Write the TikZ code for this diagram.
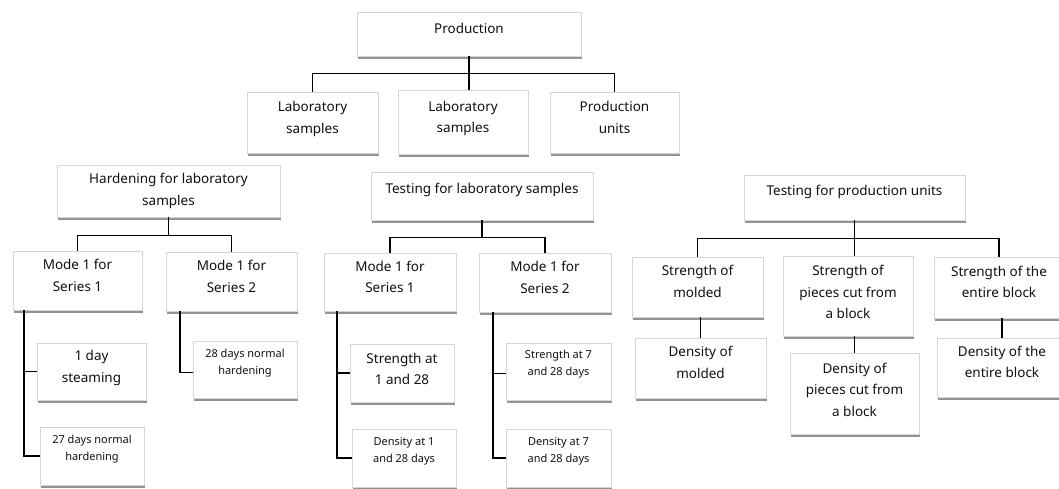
\documentclass[tikz,border=0pt]{standalone}
\usepackage{fontspec}
\setmainfont{Noto Sans}
\usepackage{xcolor}
\definecolor{edge}{HTML}{D6D6D6}
\definecolor{ink}{HTML}{111111}
\usepackage{tikz}
\usetikzlibrary{shadows,calc}

\begin{document}
\begin{tikzpicture}[x=1pt,y=-1pt,
  box/.style={rectangle,draw=edge,line width=0.8pt,fill=white,text=ink,align=center,
    drop shadow={shadow xshift=1pt,shadow yshift=-2.6pt,fill=black!50,opacity=0.85},
    font=\fontsize{13.5}{21.5}\selectfont},
  small/.style={font=\fontsize{11}{17}\selectfont},
  lift/.style={text depth=#1},
  link/.style={black,line width=1.1pt}]
  \useasboundingbox (0,0) rectangle (1059,488);
  \node[box,minimum width=224,minimum height=44,lift=12pt] (prod) at (469,34) {Production};
  \node[box,minimum width=131,minimum height=61,lift=10pt] (lab1) at (312.5,122.5) {Laboratory\\samples};
  \node[box,minimum width=130,minimum height=64,lift=10pt] (lab2) at (463,122) {Laboratory\\samples};
  \node[box,minimum width=129,minimum height=61,lift=10pt] (unit) at (614.5,122.5) {Production\\units};
  \node[box,minimum width=223,minimum height=52] (hard) at (168.5,191) {Hardening for laboratory\\samples};
  \node[box,minimum width=222,minimum height=48,lift=16pt] (testlab) at (482,196) {Testing for laboratory samples};
  \node[box,minimum width=221,minimum height=45,lift=14pt] (testunit) at (854.5,197.5) {Testing for production units};
  \node[box,minimum width=129,minimum height=59,lift=10pt] (hm1) at (77.5,280.5) {Mode 1 for\\Series 1};
  \node[box,minimum width=131,minimum height=59,lift=10pt] (hm2) at (231.5,281.5) {Mode 1 for\\Series 2};
  \node[box,minimum width=109,minimum height=57,lift=10pt] (steam) at (91.5,371.5) {1 day\\steaming};
  \node[box,small,minimum width=104,minimum height=58,lift=16pt] (hard27) at (92,456) {27 days normal\\hardening};
  \node[box,small,minimum width=104,minimum height=57,lift=16pt] (hard28) at (245,369.5) {28 days normal\\hardening};
  \node[box,minimum width=132,minimum height=58,lift=10pt] (tm1) at (390,282) {Mode 1 for\\Series 1};
  \node[box,minimum width=132,minimum height=59,lift=10pt] (tm2) at (545,282.5) {Mode 1 for\\Series 2};
  \node[box,minimum width=104,minimum height=58,lift=8pt] (str1) at (402,373) {Strength at\\1 and 28};
  \node[box,small,minimum width=104,minimum height=58,lift=17pt] (den1) at (404,458) {Density at 1\\and 28 days};
  \node[box,small,minimum width=105,minimum height=57,lift=17pt] (str7) at (558.5,371.5) {Strength at 7\\and 28 days};
  \node[box,small,minimum width=105,minimum height=58,lift=17pt] (den7) at (558.5,458) {Density at 7\\and 28 days};
  \node[box,minimum width=131,minimum height=60,lift=11pt] (strmold) at (697.5,287) {Strength of\\molded};
  \node[box,minimum width=130,minimum height=80,lift=8pt] (strcut) at (848,296) {Strength of\\pieces cut from\\a block};
  \node[box,minimum width=130,minimum height=61,lift=11pt] (strblk) at (999,287.5) {Strength of the\\entire block};
  \node[box,minimum width=131,minimum height=60,lift=11pt] (denmold) at (700.5,368) {Density of\\molded};
  \node[box,minimum width=129,minimum height=81,lift=8pt] (dencut) at (854.5,393.5) {Density of\\pieces cut from\\a block};
  \node[box,minimum width=130,minimum height=59,lift=11pt] (denblk) at (1002,367.5) {Density of the\\entire block};
  \draw[link] (prod.south) -- ++(0,17) coordinate (prodbar);
  \draw[link] (lab1.north) |- (prodbar) -| (unit.north);
  \draw[link] (prodbar) -- (prodbar |- lab2.north);
  \draw[link] (hard.south) -- ++(0,18) coordinate (hardbar);
  \draw[link] (hm1.north) |- (hardbar) -| (hm2.north);
  \draw[link] (testlab.south) -- ++(0,17) coordinate (labbar);
  \draw[link] (tm1.north) |- (labbar) -| (tm2.north);
  \draw[link] (testunit.south) -- ++(0,18) coordinate (unitbar);
  \draw[link] (strmold.north) |- (unitbar) -| (strblk.north);
  \draw[link] (unitbar) -- (unitbar |- strcut.north);
  \draw[link] ([xshift=-53.5pt]hm1.south) |- (steam.west);
  \draw[link] ([xshift=-53.5pt]hm1.south) |- (hard27.west);
  \draw[link] ([xshift=-51.5pt]hm2.south) |- ([yshift=-3pt]hard28.west);
  \draw[link] ([xshift=-53pt]tm1.south) |- (str1.west);
  \draw[link] ([xshift=-53pt]tm1.south) |- (den1.west);
  \draw[link] ([xshift=-52pt]tm2.south) |- ([yshift=-2pt]str7.west);
  \draw[link] ([xshift=-52pt]tm2.south) |- (den7.west);
  \draw[link] (denmold.north |- strmold.south) -- (denmold.north);
  \draw[link] (dencut.north |- strcut.south) -- (dencut.north);
  \draw[link] (denblk.north |- strblk.south) -- (denblk.north);
\end{tikzpicture}
\end{document}
